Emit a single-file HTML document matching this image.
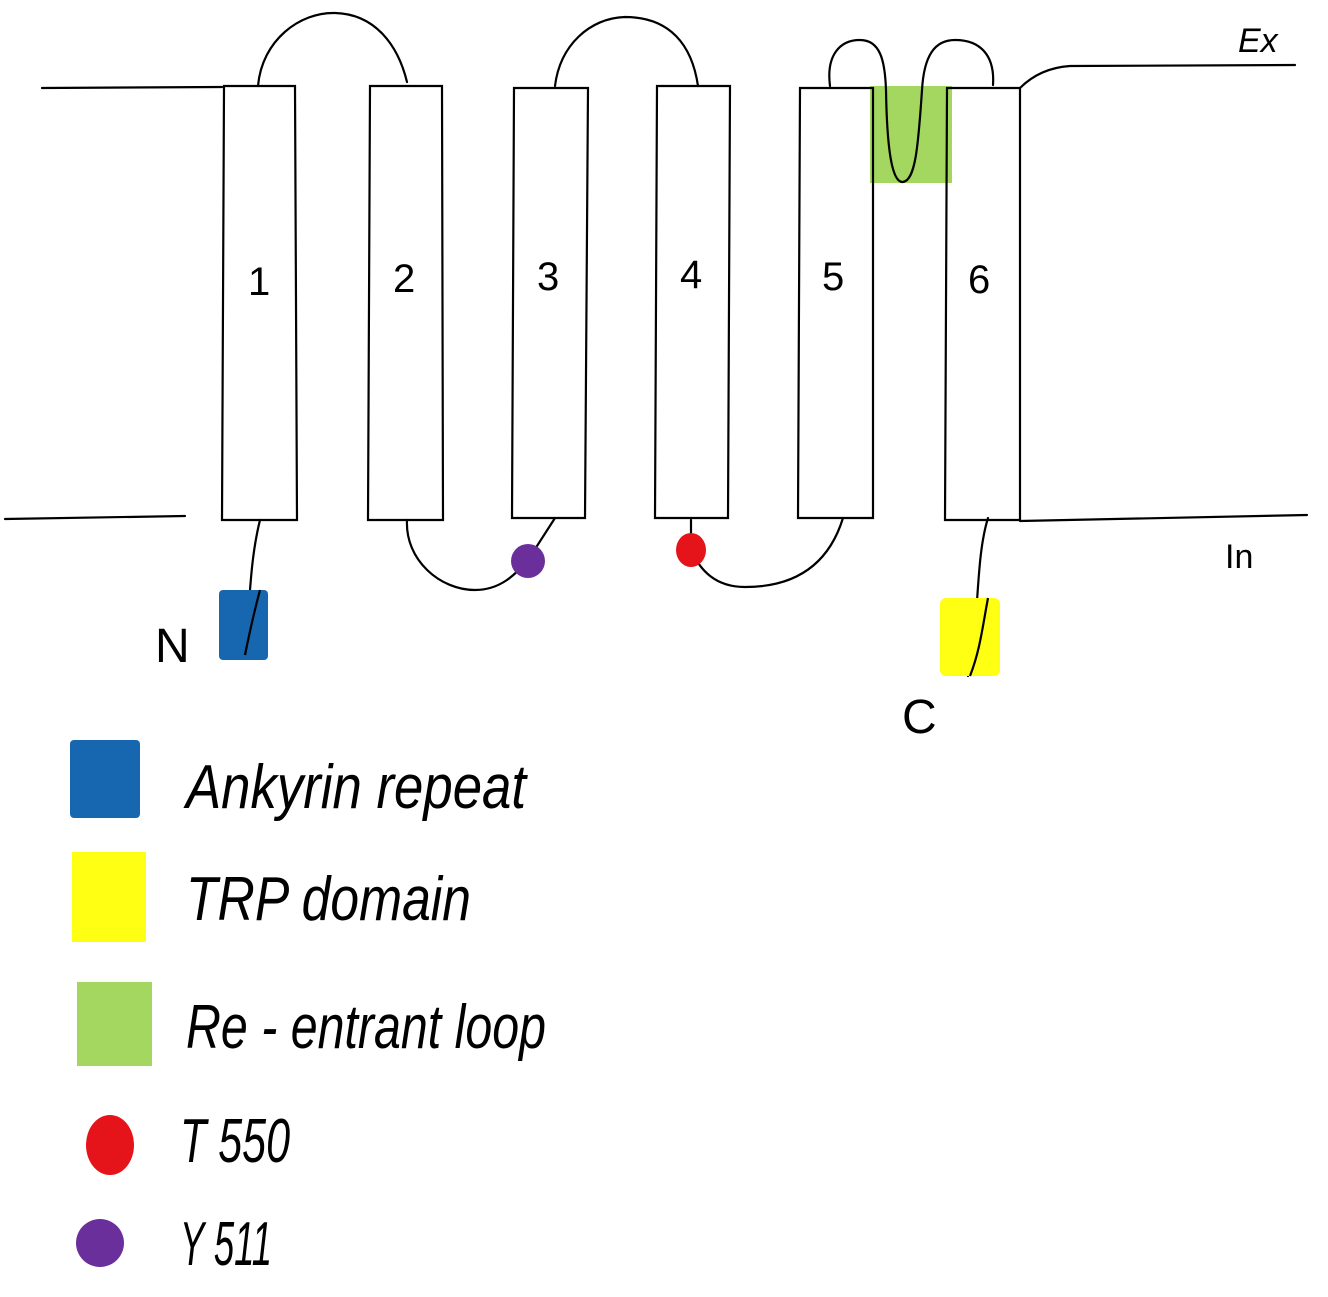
<!DOCTYPE html>
<html><head><meta charset="utf-8"><style>
html,body{margin:0;padding:0;background:#fff;}
svg{display:block}
text{font-family:"Liberation Sans",sans-serif;fill:#000}
</style></head><body>
<svg width="1328" height="1297" viewBox="0 0 1328 1297" xmlns="http://www.w3.org/2000/svg">
<g fill="none" stroke="#000" stroke-width="2.2" stroke-linecap="round">
<!-- green re-entrant -->
<rect x="870" y="86" width="82" height="97" fill="#a3d760" stroke="none"/>
<!-- membrane lines -->
<path d="M42 88 L222 87"/>
<path d="M1020 88 Q1040 68 1070 66 L1295 65"/>
<path d="M5 519 L185 516"/>
<path d="M1020 521 L1307 515"/>
<!-- helices -->
<path d="M224 86 L295 86 L297 520 L222 520 Z"/>
<path d="M370 86 L442 86 L443 520 L368 520 Z"/>
<path d="M514 88 L588 88 L585 518 L512 518 Z"/>
<path d="M657 86 L730 86 L728 518 L655 518 Z"/>
<path d="M800 88 L873 88 L873 518 L798 518 Z"/>
<path d="M947 88 L1020 88 L1020 520 L945 520 Z"/>
<!-- top loops -->
<path d="M258 86 C262 40 300 12 335 13 C375 14 398 45 407 82"/>
<path d="M555 86 C560 45 590 18 625 17 C670 17 692 45 698 86"/>
<path d="M830 86 C826 55 840 40 860 40 C880 40 885 60 886 90 C887 150 892 183 903 182 C915 180 918 150 922 90 C924 55 935 40 955 40 C980 40 995 55 993 85"/>
<!-- bottom loops -->
<path d="M407 520 C405 560 440 590 475 590 C500 590 515 575 528 560 L555 518"/>
<path d="M691 520 L691 550 C700 570 715 587 745 587 C800 587 830 560 843 518"/>
<!-- tails -->
<path d="M260 520 C250 560 250 600 245 655"/>
<path d="M988 518 C975 560 980 620 968 676"/>
</g>
<!-- blobs -->
<rect x="219" y="590" width="49" height="70" rx="4" fill="#1666b0"/>
<rect x="940" y="598" width="60" height="78" rx="6" fill="#ffff14"/>
<path d="M988 598 C982 630 980 650 970 676" fill="none" stroke="#000" stroke-width="2.2"/>
<path d="M260 590 C252 620 248 640 245 655" fill="none" stroke="#000" stroke-width="2.2"/>
<circle cx="528" cy="561" r="17" fill="#6a2f9a"/>
<ellipse cx="691" cy="550" rx="15" ry="17" fill="#e5131a"/>
<!-- labels -->
<g font-size="40">
<text x="248" y="295">1</text>
<text x="393" y="292">2</text>
<text x="537" y="290">3</text>
<text x="680" y="288">4</text>
<text x="822" y="290">5</text>
<text x="968" y="293">6</text>
<text x="155" y="662" font-size="48">N</text>
<text x="902" y="733" font-size="48">C</text>
<text x="1238" y="52" font-size="34" font-style="italic">Ex</text>
<text x="1225" y="568" font-size="34">In</text>
</g>
<!-- legend -->
<rect x="70" y="740" width="70" height="78" rx="4" fill="#1666b0"/>
<rect x="72" y="852" width="74" height="90" fill="#ffff14"/>
<rect x="77" y="982" width="75" height="84" fill="#a3d760"/>
<ellipse cx="110" cy="1145" rx="24" ry="30" fill="#e5131a"/>
<circle cx="100" cy="1243" r="24" fill="#6a2f9a"/>
<g font-size="62" font-style="italic">
<text x="186" y="808" textLength="340" lengthAdjust="spacingAndGlyphs">Ankyrin repeat</text>
<text x="186" y="920" textLength="285" lengthAdjust="spacingAndGlyphs">TRP domain</text>
<text x="186" y="1048" textLength="360" lengthAdjust="spacingAndGlyphs">Re - entrant loop</text>
<text x="180" y="1162" textLength="110" lengthAdjust="spacingAndGlyphs">T 550</text>
<text x="180" y="1265" textLength="92" lengthAdjust="spacingAndGlyphs">Y 511</text>
</g>
</svg>
</body></html>
